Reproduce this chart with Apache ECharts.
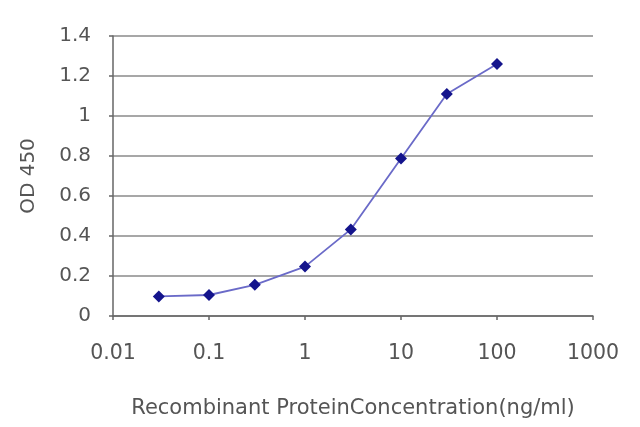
<!DOCTYPE html>
<html>
<head>
<meta charset="utf-8">
<script src="https://cdn.jsdelivr.net/npm/echarts@6/dist/echarts.min.js"></script>
<style>html,body{margin:0;padding:0;background:#fff;}#c{width:640px;height:427px;}</style>
</head>
<body>
<div id="c"></div>
<script>
var concentrations = [0.03, 0.1, 0.3, 1, 3, 10, 30, 100];
var odValues = [0.098, 0.105, 0.156, 0.247, 0.433, 0.788, 1.11, 1.26];
var xTickLabels = ['0.01', '0.1', '1', '10', '100', '1000'];
var yTickLabels = ['0', '0.2', '0.4', '0.6', '0.8', '1', '1.2', '1.4'];
var xAxisTitle = 'Recombinant ProteinConcentration(ng/ml)';
var yAxisTitle = 'OD 450';

var chart = echarts.init(document.getElementById('c'));
var font = 'DejaVu Sans';
chart.setOption({
  animation: false,
  backgroundColor: '#ffffff',
  grid: { left: 113, right: 47, top: 36, bottom: 111, outerBoundsMode: 'none', containLabel: false },
  xAxis: {
    type: 'log', logBase: 10, min: 0.01, max: 1000,
    name: xAxisTitle, nameLocation: 'middle', nameGap: 82,
    nameTextStyle: { fontFamily: font, fontSize: 21, color: '#555' },
    axisLine: { onZero: false, lineStyle: { color: '#666', width: 1.5 } },
    axisTick: { show: true, length: 4, inside: false, lineStyle: { color: '#666', width: 1.5 } },
    minorTick: { show: false },
    splitLine: { show: false },
    axisLabel: {
      margin: 27, fontFamily: font, fontSize: 20.5, color: '#555',
      formatter: function (v) { return xTickLabels[Math.round(Math.log10(v)) + 2]; }
    }
  },
  yAxis: {
    type: 'value', min: 0, max: 1.4, interval: 0.2,
    name: yAxisTitle, nameLocation: 'middle', nameGap: 74,
    nameTextStyle: { fontFamily: font, fontSize: 20, color: '#555' },
    axisLine: { show: true, lineStyle: { color: '#666', width: 1.5 } },
    axisTick: { show: true, length: 4, lineStyle: { color: '#666', width: 1.5 } },
    splitLine: { show: true, lineStyle: { color: '#8a8a8a', width: 1.5 } },
    axisLabel: {
      margin: 22, fontFamily: font, fontSize: 20, color: '#555',
      formatter: function (v) { return yTickLabels[Math.round(v / 0.2)]; }
    }
  },
  series: [{
    type: 'line',
    data: concentrations.map(function (c, i) { return [c, odValues[i]]; }),
    symbol: 'diamond', symbolSize: 12,
    itemStyle: { color: '#14148c' },
    lineStyle: { color: '#6a6ac8', width: 1.8 }
  }]
});
</script>
</body>
</html>
